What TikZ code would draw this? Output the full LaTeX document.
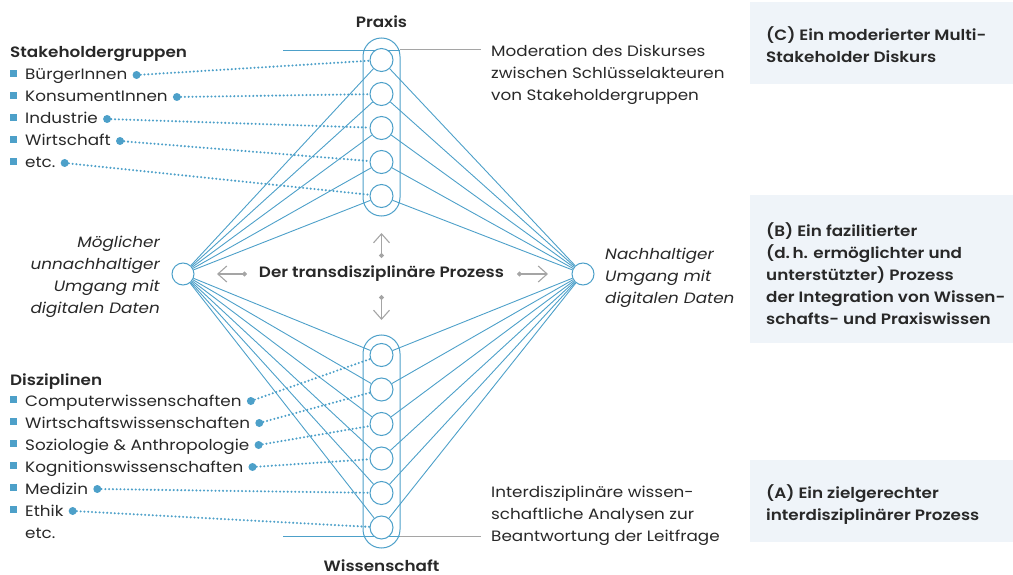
\documentclass[tikz,border=0pt]{standalone}
\usepackage{fontspec}
\IfFontExistsTF{Poppins SemiBold}
  {\setmainfont{Poppins}[FakeStretch=1.12, BoldFont={Poppins SemiBold}]}
  {\IfFontExistsTF{Poppins Medium}
    {\setmainfont{Poppins}[FakeStretch=1.12, BoldFont={Poppins Medium}, BoldFeatures={FakeBold=0.6}]}
    {\setmainfont{Poppins}[FakeStretch=1.12]}}
\usetikzlibrary{arrows.meta, calc}
\definecolor{linie}{RGB}{77,160,201}
\definecolor{grau}{RGB}{165,165,165}
\definecolor{schrift}{RGB}{40,40,40}
\definecolor{kasten}{RGB}{239,244,249}

\begin{document}
\begin{tikzpicture}[x=1pt, y=-1pt,
  font=\fontsize{15}{22}\selectfont, text=schrift,
  kreis/.style={circle, draw=linie, line width=1pt, fill=white, minimum size=23pt, inner sep=0pt},
  verb/.style={draw=linie, line width=0.9pt},
  punkt/.style={draw=linie, line width=2.3pt, line cap=round, dash pattern=on 0pt off 3.8pt},
  dot/.style={circle, fill=linie, minimum size=8pt, inner sep=0pt},
  eintrag/.style={anchor=base west, inner sep=0pt},
  block/.style={inner sep=0pt, align=left, anchor=west},
  pfeil/.style={draw=grau, line width=1.1pt, arrows={Circle[length=5pt]-Straight Barb[length=9pt,width=16pt]}}]
\useasboundingbox (0,0) rectangle (1013,575);

% Kaesten rechts
\fill[kasten] (750,2) rectangle (1013,84);
\fill[kasten] (750,195) rectangle (1013,343);
\fill[kasten] (750,460) rectangle (1013,542);
\node[block, font=\fontsize{15}{22}\selectfont\bfseries] (kc) at (766,44.5) {(C) Ein moderierter Multi-\\Stakeholder Diskurs};
\node[block, font=\fontsize{15}{22}\selectfont\bfseries] (kb) at (766,273.5) {(B) Ein fazilitierter\\(d.\,h. ermöglichter und\\unterstützter) Prozess\\der Integration von Wissen-\\schafts- und Praxiswissen};
\node[block, font=\fontsize{15}{22}\selectfont\bfseries] (ka) at (766,505) {(A) Ein zielgerechter\\interdisziplinärer Prozess};

% Saeulen
\draw[linie, line width=1pt, rounded corners=18.5pt] (363,38) rectangle (400,216);
\draw[linie, line width=1pt, rounded corners=18.5pt] (363,335) rectangle (400,548);
\coordinate (ob1) at (283,50);
\coordinate (ob2) at (400,50);
\coordinate (ob3) at (481,50);
\coordinate (un1) at (283,536);
\coordinate (un2) at (400,536);
\coordinate (un3) at (481,536);
\draw[verb] (ob1) -- (ob2);
\draw[grau, line width=1pt] (ob2) -- (ob3);
\draw[verb] (un1) -- (un2);
\draw[grau, line width=1pt] (un2) -- (un3);

\foreach \i/\y in {1/60,2/94,3/128,4/162,5/196}
  \node[kreis] (p\i) at (381.5,\y) {};
\foreach \i/\y in {1/355,2/389.5,3/424,4/458.5,5/493,6/527.5}
  \node[kreis] (w\i) at (381.5,\y) {};
\node[kreis, minimum size=22pt] (L) at (183,274) {};
\node[kreis, minimum size=22pt] (R) at (583,274) {};

\foreach \n in {p1,p2,p3,p4,p5,w1,w2,w3,w4,w5,w6}
  \draw[verb] (L) -- (\n) (R) -- (\n);

\node[anchor=base, inner sep=0pt, font=\fontsize{15}{22}\selectfont\bfseries] (praxis) at (381.5,27.5) {Praxis};
\node[anchor=base, inner sep=0pt, font=\fontsize{15}{22}\selectfont\bfseries] (wiss) at (381.5,571) {Wissenschaft};

% Stakeholder
\node[eintrag, font=\fontsize{15}{22}\selectfont\bfseries] (stk) at (10,58) {Stakeholdergruppen};
\foreach \t/\y [count=\i] in {BürgerInnen/80, KonsumentInnen/102, Industrie/124, Wirtschaft/146, etc./168} {
  \fill[linie] (10,\y-10) rectangle +(7,7);
  \node[eintrag] (s\i) at (25,\y) {\t};
  \node[dot] (sd\i) at ($(s\i.base east)+(9,-5)$) {};
  \draw[punkt] (sd\i) -- (p\i);
}

% Disziplinen
\node[eintrag, font=\fontsize{15}{22}\selectfont\bfseries] (dis) at (10,385) {Disziplinen};
\foreach \t/\y [count=\i] in {Computerwissenschaften/406, Wirtschaftswissenschaften/428, Soziologie \& Anthropologie/450, Kognitionswissenschaften/472, Medizin/494, Ethik/516} {
  \fill[linie] (10,\y-10) rectangle +(7,7);
  \node[eintrag] (d\i) at (25,\y) {\t};
  \node[dot] (dd\i) at ($(d\i.base east)+(9,-5)$) {};
  \draw[punkt] (dd\i) -- (w\i);
}
\node[eintrag] (detc) at (25,538) {etc.};

% Mitte
\node[font=\fontsize{15}{22}\selectfont\bfseries] (mitte) at (381.5,274) {Der transdisziplinäre Prozess};
\coordinate (ml1) at (247,274);
\coordinate (ml2) at (217,274);
\coordinate (mr1) at (517,274);
\coordinate (mr2) at (548,274);
\coordinate (mo1) at (381.5,258);
\coordinate (mo2) at (381.5,233);
\coordinate (mu1) at (381.5,295);
\coordinate (mu2) at (381.5,320);
\draw[pfeil] (ml1) -- (ml2);
\draw[pfeil] (mr1) -- (mr2);
\draw[pfeil] (mo1) -- (mo2);
\draw[pfeil] (mu1) -- (mu2);

% Texte
\node[inner sep=0pt, align=right, anchor=east, font=\fontsize{15}{22}\selectfont\itshape] (links) at (160,276.5) {Möglicher\\unnachhaltiger\\Umgang mit\\digitalen Daten};
\node[block, font=\fontsize{15}{22}\selectfont\itshape] (rechts) at (605,278) {Nachhaltiger\\Umgang mit\\digitalen Daten};
\node[block] (mod) at (491,75) {Moderation des Diskurses\\zwischen Schlüsselakteuren\\von Stakeholdergruppen};
\node[block] (inter) at (491,516) {Interdisziplinäre wissen-\\schaftliche Analysen zur\\Beantwortung der Leitfrage};
\end{tikzpicture}
\end{document}
